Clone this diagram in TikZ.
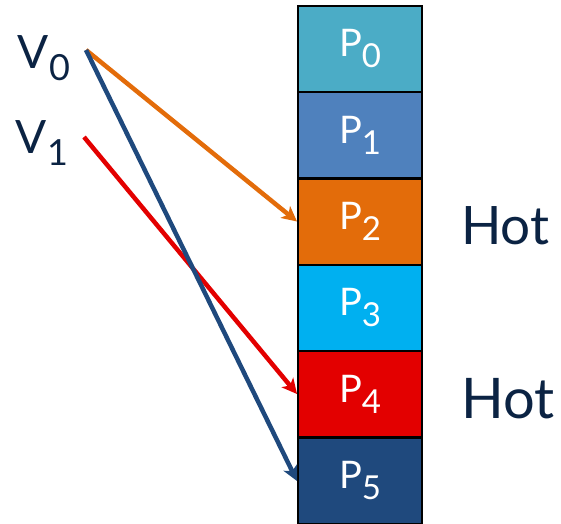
\documentclass[tikz,border=0pt]{standalone}
\usepackage{fontspec}
\setmainfont{Lato}
\usetikzlibrary{positioning,arrows.meta}
\definecolor{navy}{HTML}{0B2343}
\definecolor{pzero}{HTML}{4BACC6}
\definecolor{pone}{HTML}{4F81BD}
\definecolor{ptwo}{HTML}{E36C0A}
\definecolor{pthree}{HTML}{00B0F0}
\definecolor{pfour}{HTML}{E30000}
\definecolor{pfive}{HTML}{1F497D}
\newcommand{\pname}[1]{P\raisebox{-11pt}{\fontsize{33}{33}\selectfont #1}}
\newcommand{\vname}[1]{V\raisebox{-12pt}{\fontsize{36}{36}\selectfont #1}}

\begin{document}
\begin{tikzpicture}[x=1pt, y=-1pt,
  page/.style={draw=black, line width=2pt, minimum width=124pt, minimum height=86pt,
    inner sep=0pt, text=white, font=\fontsize{38}{38}\selectfont},
  vlabel/.style={text=navy, inner sep=0pt, font=\fontsize{46}{46}\selectfont},
  hot/.style={text=navy, inner sep=0pt, anchor=west},
  map/.style={line width=4.5pt, -{Stealth[length=15pt,width=15pt,inset=4pt]}}]
\useasboundingbox (0,0) rectangle (561,523);
\clip (0,0) rectangle (561,523);
% pages
\node[page, fill=pzero] (p0) at (360,49) {\pname{0}};
\node[page, fill=pone] (p1) at (360,135) {\pname{1}};
\node[page, fill=ptwo] (p2) at (360,221.5) {\pname{2}};
\node[page, fill=pthree] (p3) at (360,308) {\pname{3}};
\node[page, fill=pfour] (p4) at (360,394) {\pname{4}};
\node[page, fill=pfive] (p5) at (360,481) {\pname{5}};
% virtual pages
\node[vlabel] (v0) at (44,58) {\vname{0}};
\node[vlabel] (v1) at (42,143) {\vname{1}};
\coordinate (s0) at (86,50);
\coordinate (s1) at (84,137);
% hot pages
\node[hot, font=\fontsize{53}{53}\selectfont] (h2) at (461,226) {Hot};
\node[hot, font=\fontsize{56}{56}\selectfont] (h4) at (461,399) {Hot};

\draw[map, draw=ptwo, fill=ptwo] (s0) -- (p2.west);
\draw[map, draw=pfour, fill=pfour] (s1) -- (p4.west);
\draw[map, draw=pfive, fill=pfive] (s0) -- (p5.west);
\end{tikzpicture}
\end{document}
